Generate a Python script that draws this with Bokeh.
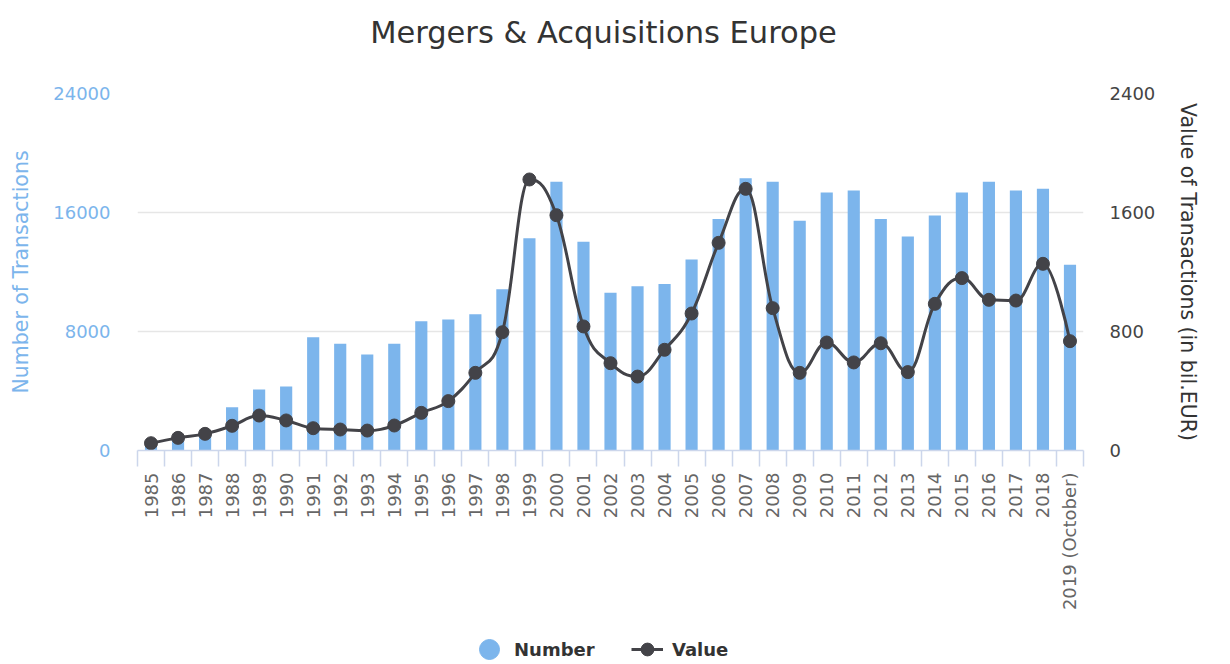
import math
from bokeh.plotting import figure
from bokeh.layouts import column
from bokeh.models import (Range1d, LinearAxis, FixedTicker, Legend, LegendItem, Label,
                          ColumnDataSource, NumeralTickFormatter)
from bokeh.embed import file_html
from bokeh.resources import INLINE

# ---------------- data ----------------
title_text = "Mergers & Acquisitions Europe"
years = ["1985", "1986", "1987", "1988", "1989", "1990", "1991", "1992", "1993", "1994",
         "1995", "1996", "1997", "1998", "1999", "2000", "2001", "2002", "2003", "2004",
         "2005", "2006", "2007", "2008", "2009", "2010", "2011", "2012", "2013", "2014",
         "2015", "2016", "2017", "2018", "2019 (October)"]
number_of_transactions = [300, 800, 1100, 2900, 4100, 4300, 7620, 7170, 6450, 7170,
                          8690, 8810, 9160, 10840, 14270, 18060, 14030, 10600, 11050, 11200,
                          12840, 15570, 18310, 18060, 15440, 17340, 17480, 15570, 14390, 15800,
                          17340, 18060, 17480, 17590, 12480]
value_bil_eur = [49, 85, 112, 166, 235, 202, 150, 141, 134, 168,
                 253, 332, 522, 795, 1822, 1582, 834, 587, 497, 677,
                 921, 1396, 1759, 957, 522, 726, 592, 721, 527, 986,
                 1159, 1013, 1008, 1255, 735]
left_ticks = [0, 8000, 16000, 24000]
right_ticks = [0, 800, 1600, 2400]

FONT = "DejaVu Sans"
BLUE = "#7cb5ec"
DARK = "#434348"

n = len(years)
xs = list(range(n))


def hc_spline(x, y, smoothing=1.5):
    """Highcharts-style spline control points."""
    m = len(x)
    denom = smoothing + 1
    lc = [None] * m
    rc = [None] * m
    for i in range(1, m - 1):
        px, py = x[i], y[i]
        lx, ly = x[i - 1], y[i - 1]
        nx, ny = x[i + 1], y[i + 1]
        lcx = (smoothing * px + lx) / denom
        lcy = (smoothing * py + ly) / denom
        rcx = (smoothing * px + nx) / denom
        rcy = (smoothing * py + ny) / denom
        corr = 0
        if rcx != lcx:
            corr = ((rcy - lcy) * (rcx - px)) / (rcx - lcx) + py - rcy
        lcy += corr
        rcy += corr
        if lcy > ly and lcy > py:
            lcy = max(ly, py)
            rcy = 2 * py - lcy
        elif lcy < ly and lcy < py:
            lcy = min(ly, py)
            rcy = 2 * py - lcy
        if rcy > ny and rcy > py:
            rcy = max(ny, py)
            lcy = 2 * py - rcy
        elif rcy < ny and rcy < py:
            rcy = min(ny, py)
            lcy = 2 * py - rcy
        lc[i] = (lcx, lcy)
        rc[i] = (rcx, rcy)
    seg = dict(x0=[], y0=[], x1=[], y1=[], cx0=[], cy0=[], cx1=[], cy1=[])
    for i in range(1, m):
        a = rc[i - 1] if rc[i - 1] else (x[i - 1], y[i - 1])
        b = lc[i] if lc[i] else (x[i], y[i])
        seg["x0"].append(x[i - 1]); seg["y0"].append(y[i - 1])
        seg["x1"].append(x[i]); seg["y1"].append(y[i])
        seg["cx0"].append(a[0]); seg["cy0"].append(a[1])
        seg["cx1"].append(b[0]); seg["cy1"].append(b[1])
    return seg


W = 1230
TH, LH = 50, 50          # title strip, legend strip
H = 664 - TH - LH        # main chart

# ---------------- title strip ----------------
tf = figure(width=W, height=TH, output_backend="svg", toolbar_location=None,
            x_axis_location=None, y_axis_location=None, min_border=0,
            x_range=Range1d(0, 1), y_range=Range1d(0, 1))
tf.outline_line_color = None
tf.grid.visible = False
tf.background_fill_color = "white"
tf.border_fill_color = "white"
tf.add_layout(Label(x=466, y=18, x_units="screen", y_units="screen",
                    text=title_text, text_align="center", text_baseline="alphabetic",
                    text_font=FONT, text_font_size="30.5px", text_color="#333333"))

# ---------------- main chart ----------------
p = figure(width=W, height=H, output_backend="svg", toolbar_location=None,
           x_range=Range1d(-0.5, n - 0.5), y_range=Range1d(0, 24000),
           min_border_left=137, min_border_right=147, min_border_top=93 - TH,
           min_border_bottom=164)
p.extra_y_ranges = {"right": Range1d(0, 2400)}
p.outline_line_color = None
p.background_fill_color = "white"
p.border_fill_color = "white"

# grid
p.xgrid.visible = False
p.ygrid.ticker = FixedTicker(ticks=left_ticks[1:])
p.ygrid.grid_line_color = "#e6e6e6"
p.ygrid.grid_line_width = 1.5

# x axis
xa = p.xaxis[0]
xa.ticker = FixedTicker(ticks=xs, minor_ticks=[i - 0.5 for i in range(n + 1)])
xa.major_label_overrides = {i: years[i] for i in xs}
xa.axis_line_color = "#ccd6eb"
xa.axis_line_width = 1.5
xa.major_tick_out = 0
xa.major_tick_in = 0
xa.minor_tick_out = 16
xa.minor_tick_in = 0
xa.minor_tick_line_color = "#ccd6eb"
xa.minor_tick_line_width = 1.5
xa.major_label_orientation = math.pi / 2
xa.major_label_standoff = 6
xa.major_label_text_font = FONT
xa.major_label_text_font_size = "18px"
xa.major_label_text_color = "#666666"

# left axis
ya = p.yaxis[0]
ya.ticker = FixedTicker(ticks=left_ticks)
ya.formatter = NumeralTickFormatter(format="0")
ya.axis_line_color = None
ya.major_tick_line_color = None
ya.minor_tick_line_color = None
ya.major_label_standoff = 21
ya.major_label_text_font = FONT
ya.major_label_text_font_size = "18px"
ya.major_label_text_color = BLUE
ya.axis_label = "Number of Transactions"
ya.axis_label_text_font = FONT
ya.axis_label_text_font_size = "20.5px"
ya.axis_label_text_font_style = "normal"
ya.axis_label_text_color = BLUE
ya.axis_label_standoff = 17

# right axis
ra = LinearAxis(y_range_name="right", ticker=FixedTicker(ticks=right_ticks),
                formatter=NumeralTickFormatter(format="0"))
ra.axis_line_color = None
ra.major_tick_line_color = None
ra.minor_tick_line_color = None
ra.major_label_standoff = 20
ra.major_label_text_font = FONT
ra.major_label_text_font_size = "18px"
ra.major_label_text_color = "#444444"
ra.axis_label = "Value of Transactions (in bil.EUR)"
ra.axis_label_text_font = FONT
ra.axis_label_text_font_size = "20.5px"
ra.axis_label_text_font_style = "normal"
ra.axis_label_text_color = "#333333"
ra.axis_label_standoff = 18
p.add_layout(ra, "right")

# bars
src = ColumnDataSource(dict(x=xs, number=number_of_transactions, value=value_bil_eur))
p.vbar(x="x", top="number", width=0.45, source=src, fill_color=BLUE, line_color=None)

# spline line
seg = hc_spline([float(v) for v in xs], [float(v) for v in value_bil_eur])
p.bezier(source=ColumnDataSource(seg), x0="x0", y0="y0", x1="x1", y1="y1",
         cx0="cx0", cy0="cy0", cx1="cx1", cy1="cy1",
         line_color=DARK, line_width=3, y_range_name="right")
p.scatter(x="x", y="value", source=src, size=13, fill_color=DARK, line_color=DARK,
          y_range_name="right")

# ---------------- legend strip ----------------
# the series are attached here with a (0, 1) y range, so they stay out of view and
# only serve as legend glyph sources
lf = figure(width=W, height=LH, output_backend="svg", toolbar_location=None,
            x_axis_location=None, y_axis_location=None, min_border=0,
            x_range=Range1d(0, 1), y_range=Range1d(0, 1))
lf.outline_line_color = None
lf.grid.visible = False
lf.background_fill_color = "white"
lf.border_fill_color = "white"

r_num = lf.scatter(x="x", y="number", source=src, fill_color=BLUE, line_color=BLUE)
r_vline = lf.line(x="x", y="value", source=src, line_color=DARK, line_width=3)
r_vpt = lf.scatter(x="x", y="value", source=src, fill_color=DARK, line_color=DARK)

common = dict(orientation="horizontal", padding=0, margin=0, border_line_color=None,
              background_fill_alpha=0, label_text_font=FONT, label_text_font_size="18px",
              label_text_font_style="bold", label_text_color="#333333", spacing=0)
legA = Legend(items=[LegendItem(label="Number", renderers=[r_num])], location=(327, -10),
              glyph_width=50, glyph_height=50, label_standoff=0, **common)
legB = Legend(items=[LegendItem(label="Value", renderers=[r_vline, r_vpt])], location=(494, -1),
              glyph_width=32, glyph_height=32, label_standoff=9, **common)
lf.add_layout(legA)
lf.add_layout(legB)

open("out.html", "w").write(file_html(column(tf, p, lf, spacing=0), INLINE))
